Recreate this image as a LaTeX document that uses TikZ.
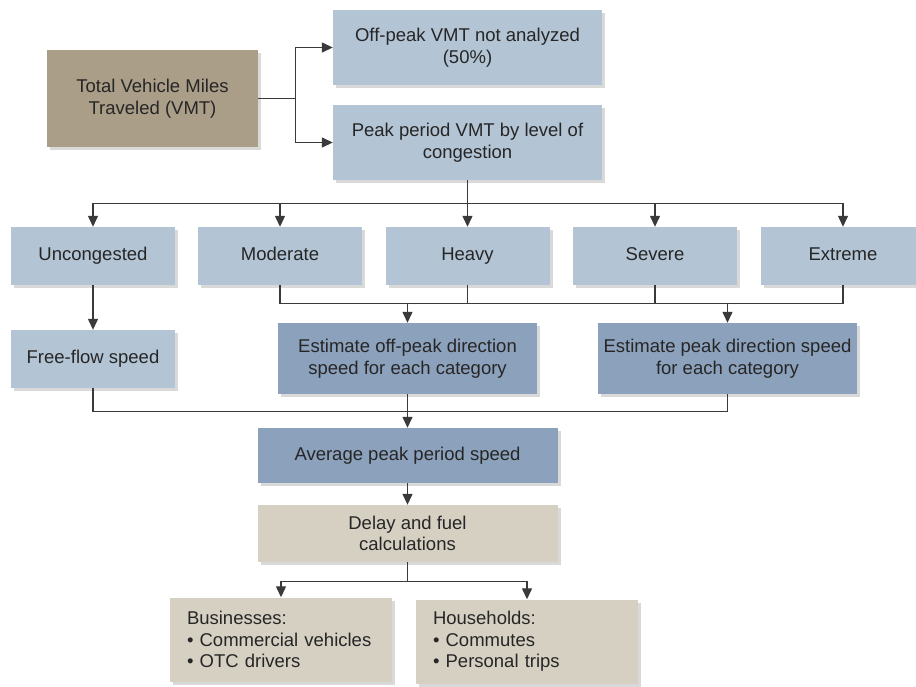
\documentclass[tikz,border=0pt]{standalone}
\usepackage{fontspec}
\setmainfont{Liberation Sans}
\usepackage{tikz}
\usetikzlibrary{arrows.meta,shadows}
\definecolor{paleblue}{HTML}{B3C4D5}
\definecolor{darkblue}{HTML}{8CA1BC}
\definecolor{tanbrown}{HTML}{AB9E88}
\definecolor{sandgray}{HTML}{D6D0C3}
\definecolor{inkgray}{HTML}{262626}
\definecolor{linegray}{HTML}{3A3A3A}
\tikzset{
    box/.style={
        draw=none, align=center, text=inkgray, inner sep=2pt,
        font=\fontsize{18.5}{21.5}\selectfont,
        drop shadow={shadow xshift=3pt, shadow yshift=-3pt, opacity=.3}
    },
    pale box/.style={box, fill=paleblue},
    dark box/.style={box, fill=darkblue},
    tan box/.style={box, fill=tanbrown},
    sand box/.style={box, fill=sandgray},
    level size/.style={minimum width=164pt, minimum height=58pt, text height=13pt, text depth=4pt},
    list box/.style={
        align=left, text width=188pt, inner xsep=17pt, inner ysep=0pt,
        minimum height=84pt
    },
    link/.style={draw=linegray, line width=1.3pt},
    flow/.style={link, -{Triangle[length=11pt, width=10pt]}},
}

\begin{document}
\begin{tikzpicture}[x=1pt, y=-1pt]
\useasboundingbox (0,0) rectangle (916,686);

\node[tan box, minimum width=211pt, minimum height=97pt] (vmt) at (152.5,98.5) {Total Vehicle Miles\\Traveled (VMT)};
\node[pale box, minimum width=269pt, minimum height=75pt] (offpeak) at (467.5,47.5) {Off-peak VMT not analyzed\\(50\%)};
\node[pale box, minimum width=269pt, minimum height=75pt] (peak) at (467.5,142.5) {Peak period VMT by level of\\congestion};

\foreach \x/\n/\t in {93/uncong/Uncongested, 280/moderate/Moderate, 467.5/heavy/Heavy, 655/severe/Severe, 843/extreme/Extreme}
    \node[pale box, level size] (\n) at (\x,256) {\t};

\node[pale box, level size] (free) at (93,359) {Free-flow speed};
\node[dark box, minimum width=259pt, minimum height=71pt] (estoff) at (407.5,358.5) {Estimate off-peak direction\\speed for each category};
\node[dark box, minimum width=259pt, minimum height=71pt] (estpeak) at (727.5,358.5) {Estimate peak direction speed\\for each category};
\node[dark box, minimum width=300pt, minimum height=55pt] (avg) at (407.5,455.5) {Average peak period speed};
\node[sand box, minimum width=300pt, minimum height=57pt] (delay) at (407.5,533.5) {Delay and fuel\\calculations};
\node[sand box, list box] (business) at (281,639.5) {Businesses:\\\textbullet\ Commercial vehicles\\\textbullet\ OTC drivers};
\node[sand box, list box] (household) at (527,641.5) {Households:\\\textbullet\ Commutes\\\textbullet\ Personal trips};

% total VMT split
\draw[link] (vmt.east) -- ++(37,0) coordinate (split);
\draw[flow] (split) |- (offpeak.west);
\draw[flow] (split) |- (peak.west);

% congestion levels
\draw[link] (peak.south) -- ++(0,23) coordinate (topbus);
\draw[link] (uncong |- topbus) -- (extreme |- topbus);
\foreach \n in {uncong,moderate,heavy,severe,extreme}
    \draw[flow] (\n |- topbus) -- (\n.north);

\draw[flow] (uncong.south) -- (free.north);
\draw[link] (moderate.south) -- ++(0,18) coordinate (midbus) -- (extreme.south |- midbus) -- (extreme.south);
\draw[link] (heavy.south) -- (heavy |- midbus);
\draw[link] (severe.south) -- (severe |- midbus);
\draw[flow] (estoff |- midbus) -- (estoff.north);
\draw[flow] (estpeak |- midbus) -- (estpeak.north);

% speeds to average
\draw[link] (free.south) -- ++(0,23) coordinate (lowbus) -- (estpeak.south |- lowbus) -- (estpeak.south);
\draw[flow] (estoff.south) -- (avg.north);
\draw[flow] (avg.south) -- (delay.north);

\draw[link] (delay.south) -- ++(0,19) coordinate (outbus);
\draw[link] (business |- outbus) -- (household |- outbus);
\draw[flow] (business |- outbus) -- (business.north);
\draw[flow] (household |- outbus) -- (household.north);
\end{tikzpicture}
\end{document}
